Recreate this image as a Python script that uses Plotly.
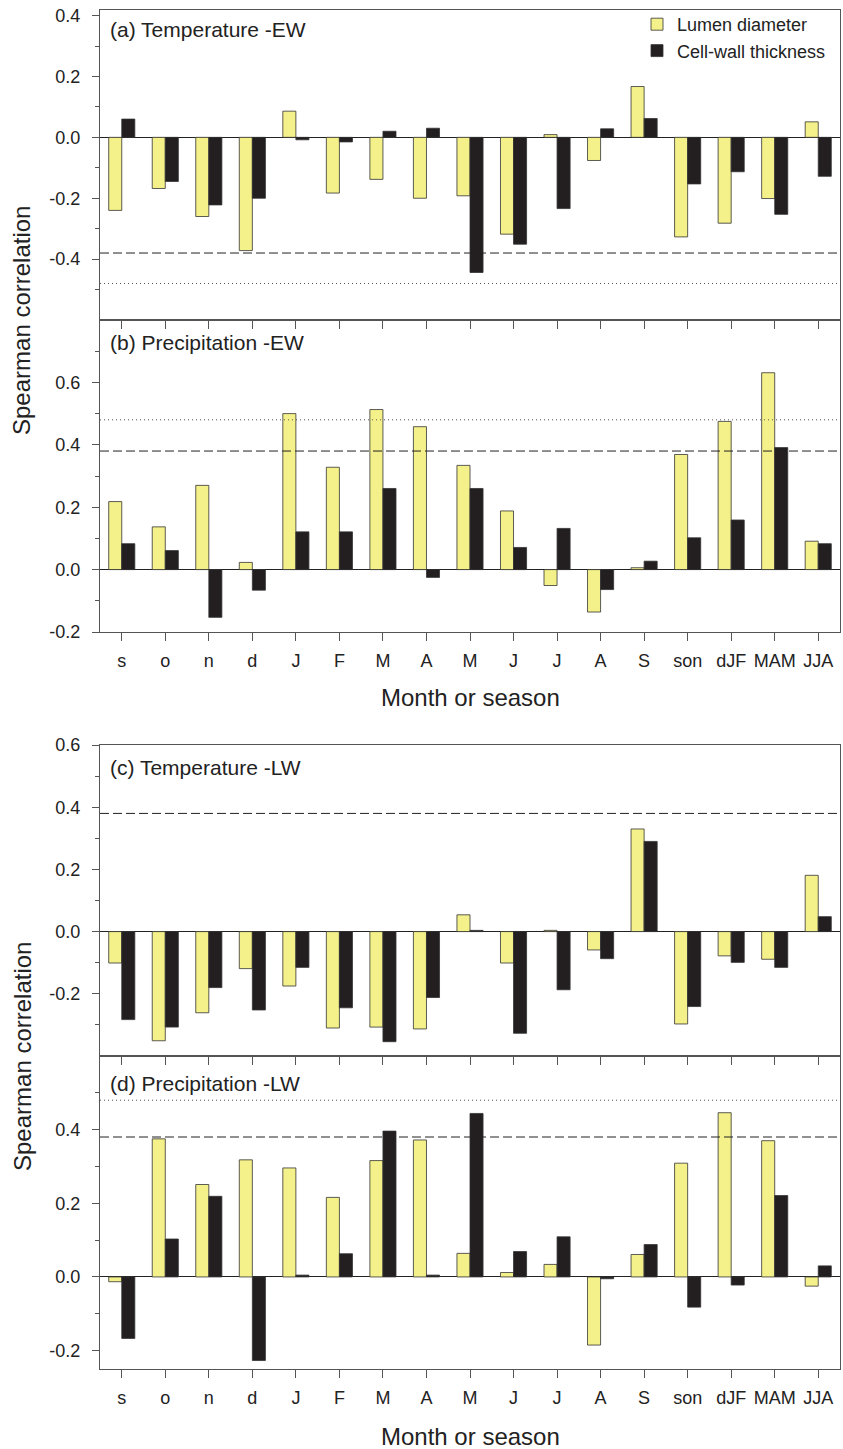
import plotly.graph_objects as go

# ---------------- data ----------------
months = ["s", "o", "n", "d", "J", "F", "M", "A", "M", "J", "J", "A", "S",
          "son", "dJF", "MAM", "JJA"]

lumen_temp_ew = [-0.24, -0.168, -0.26, -0.372, 0.086, -0.183, -0.138, -0.20, -0.192,
                 -0.318, 0.009, -0.076, 0.167, -0.327, -0.282, -0.201, 0.051]
wall_temp_ew = [0.06, -0.145, -0.222, -0.20, -0.008, -0.015, 0.02, 0.03, -0.444,
                -0.351, -0.234, 0.028, 0.062, -0.153, -0.113, -0.253, -0.128]

lumen_prec_ew = [0.218, 0.137, 0.27, 0.023, 0.50, 0.328, 0.513, 0.458, 0.334,
                 0.188, -0.051, -0.136, 0.006, 0.369, 0.475, 0.631, 0.091]
wall_prec_ew = [0.083, 0.061, -0.153, -0.066, 0.121, 0.121, 0.26, -0.025, 0.26,
                0.071, 0.132, -0.064, 0.027, 0.102, 0.159, 0.391, 0.083]

lumen_temp_lw = [-0.101, -0.351, -0.261, -0.119, -0.175, -0.31, -0.307, -0.313, 0.054,
                 -0.101, 0.004, -0.059, 0.33, -0.297, -0.078, -0.089, 0.181]
wall_temp_lw = [-0.283, -0.307, -0.18, -0.252, -0.115, -0.245, -0.354, -0.212, 0.004,
                -0.327, -0.187, -0.087, 0.29, -0.241, -0.099, -0.115, 0.048]

lumen_prec_lw = [-0.013, 0.375, 0.251, 0.318, 0.296, 0.216, 0.316, 0.372, 0.064,
                 0.012, 0.034, -0.185, 0.061, 0.309, 0.446, 0.37, -0.025]
wall_prec_lw = [-0.167, 0.103, 0.219, -0.227, 0.005, 0.063, 0.396, 0.005, 0.444,
                0.069, 0.109, -0.005, 0.088, -0.082, -0.022, 0.221, 0.030]

sig95 = 0.38   # dashed significance level
sig99 = 0.48   # dotted significance level

panel_labels = ["(a) Temperature -EW", "(b) Precipitation -EW",
                "(c) Temperature -LW", "(d) Precipitation -LW"]
series_names = ["Lumen diameter", "Cell-wall thickness"]

ytick_a = [-0.4, -0.2, 0.0, 0.2, 0.4]
ytick_b = [-0.2, 0.0, 0.2, 0.4, 0.6]
ytick_c = [-0.2, 0.0, 0.2, 0.4, 0.6]
ytick_d = [-0.2, 0.0, 0.2, 0.4]

x_title = "Month or season"
y_title = "Spearman correlation"

# ---------------- styling / layout ----------------
W, H = 843, 1449
FONT = "Liberation Sans, Arial, Helvetica, sans-serif"
YELLOW = "#F4F08A"
BLACK = "#231F20"
AXC = "#555555"

def py(p):  # pixel from top -> paper fraction
    return 1 - p / H

panels = [
    dict(label=panel_labels[0], lum=lumen_temp_ew, wal=wall_temp_ew,
         rng=[-0.6, 0.42], ticks=ytick_a, dom=[py(320), py(9.5)],
         lines=[(-sig95, "9px,4px"), (-sig99, "1px,3px")], xlabels=False, lab_off=20),
    dict(label=panel_labels[1], lum=lumen_prec_ew, wal=wall_prec_ew,
         rng=[-0.2, 0.8], ticks=ytick_b, dom=[py(632), py(320)],
         lines=[(sig95, "9px,4px"), (sig99, "1px,3px")], xlabels=True, lab_off=22),
    dict(label=panel_labels[2], lum=lumen_temp_lw, wal=wall_temp_lw,
         rng=[-0.4, 0.6], ticks=ytick_c, dom=[py(1056), py(745)],
         lines=[(sig95, "9px,4px")], xlabels=False, lab_off=22),
    dict(label=panel_labels[3], lum=lumen_prec_lw, wal=wall_prec_lw,
         rng=[-0.25, 0.6], ticks=ytick_d, dom=[py(1369), py(1056)],
         lines=[(sig99, "1px,3px"), (sig95, "9px,4px")], xlabels=True, lab_off=27),
]

x_idx = list(range(len(months)))
fig = go.Figure()
annotations = []
shapes = []
layout_axes = {}

for i, p in enumerate(panels):
    n = "" if i == 0 else str(i + 1)
    xa, ya = "x" + n, "y" + n
    fig.add_trace(go.Bar(x=x_idx, y=p["lum"], name=series_names[0], xaxis=xa, yaxis=ya,
                         marker=dict(color=YELLOW, line=dict(color="#333333", width=0.8)),
                         showlegend=(i == 0), legendgroup="l"))
    fig.add_trace(go.Bar(x=x_idx, y=p["wal"], name=series_names[1], xaxis=xa, yaxis=ya,
                         marker=dict(color=BLACK, line=dict(color="#333333", width=0.8)),
                         showlegend=(i == 0), legendgroup="w"))
    layout_axes["xaxis" + n] = dict(
        domain=[0, 1], anchor=ya, range=[-0.5, len(months) - 0.5],
        tickmode="array", tickvals=x_idx, ticktext=months,
        showticklabels=p["xlabels"], ticks="outside", ticklen=8, tickwidth=1,
        tickcolor=AXC, showline=True, linecolor=AXC, linewidth=1.2, mirror=True,
        showgrid=False, zeroline=False, ticklabelstandoff=4, automargin=False,
        tickfont=dict(size=18, family=FONT, color="#222"))
    layout_axes["yaxis" + n] = dict(
        domain=p["dom"], anchor=xa, range=p["rng"],
        tickmode="array", tickvals=p["ticks"], ticktext=[f"{v:.1f}" for v in p["ticks"]],
        ticks="outside", ticklen=7, tickwidth=1, tickcolor=AXC,
        minor=dict(tick0=0.1, dtick=0.2, ticks="outside", ticklen=4, tickcolor=AXC),
        showline=True, linecolor=AXC, linewidth=1.2, mirror=True,
        showgrid=False, zeroline=True, zerolinecolor="#222", zerolinewidth=1,
        ticklabelstandoff=8, automargin=False,
        tickfont=dict(size=18, family=FONT, color="#222"))
    for val, dash in p["lines"]:
        shapes.append(dict(type="line", xref=xa + " domain", yref=ya, x0=0, x1=1,
                           y0=val, y1=val,
                           line=dict(color="#222" if dash.startswith("9") else "#555",
                                     width=1, dash=dash)))
    dom_h = (p["dom"][1] - p["dom"][0]) * H
    annotations.append(dict(text=p["label"], xref=xa + " domain", yref=ya + " domain",
                            x=0.011, y=1 - p["lab_off"] / dom_h, xanchor="left",
                            yanchor="middle", showarrow=False,
                            font=dict(size=21, family=FONT, color="#222")))

# axis titles
for yc in (321, 1057):
    annotations.append(dict(text=y_title, xref="paper", yref="paper",
                            x=(22 - 100) / 740, y=py(yc), textangle=-90,
                            xanchor="center", yanchor="middle", showarrow=False,
                            font=dict(size=24, family=FONT, color="#222")))
for yc in (697, 1436):
    annotations.append(dict(text=x_title, xref="paper", yref="paper",
                            x=0.5, y=py(yc), xanchor="center", yanchor="middle",
                            showarrow=False, font=dict(size=24, family=FONT, color="#222")))

fig.update_layout(
    width=W, height=H, margin=dict(l=100, r=3, t=0, b=0, pad=0, autoexpand=False),
    plot_bgcolor="white", paper_bgcolor="white",
    barmode="group", bargap=0.4, bargroupgap=0.0,
    font=dict(family=FONT, color="#222"),
    legend=dict(x=(637 - 100) / 740, y=py(6), xanchor="left", yanchor="top",
                bgcolor="rgba(0,0,0,0)", font=dict(size=18, family=FONT),
                tracegroupgap=0, itemwidth=30),
    shapes=shapes, annotations=annotations,
    **layout_axes,
)

fig.write_html("out.html", config={"displayModeBar": False},
               post_script="document.body.style.margin='0';document.body.style.overflow='hidden';")
